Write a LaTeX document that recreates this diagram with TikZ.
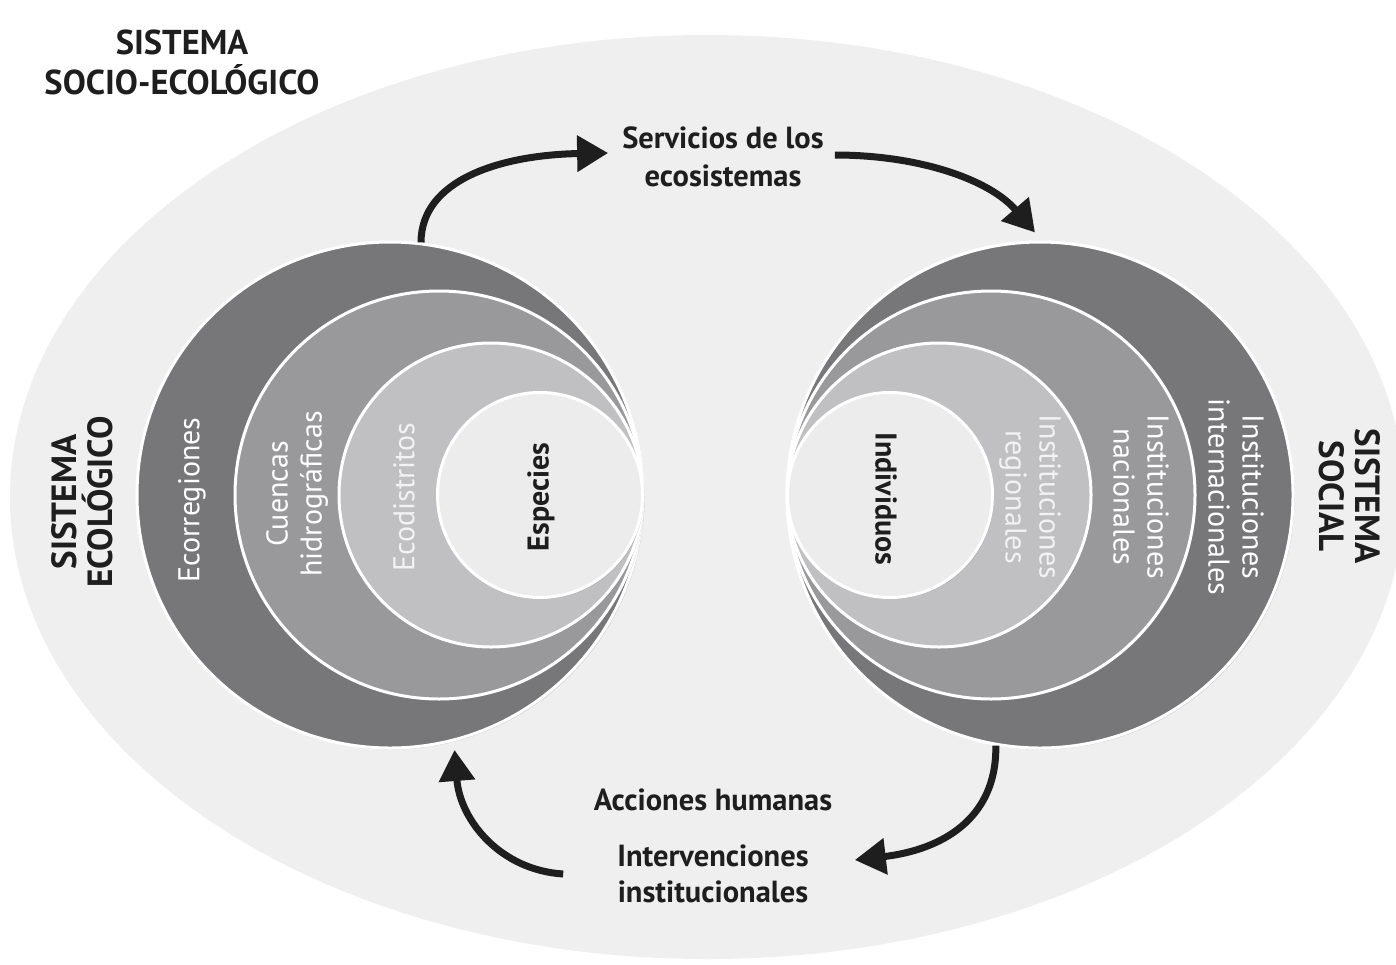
\documentclass[tikz,border=0pt]{standalone}
\usepackage{fontspec}
\setmainfont{PT Sans}
\usetikzlibrary{arrows.meta,shadows,calc}
\definecolor{bgell}{HTML}{EFEFEF}
\definecolor{ringA}{HTML}{77777A}
\definecolor{ringB}{HTML}{99999C}
\definecolor{ringC}{HTML}{C0C0C2}
\definecolor{ringD}{HTML}{ECECED}
\definecolor{ink}{HTML}{1E1E1E}
\definecolor{paletxt}{HTML}{F2F2F2}
\begin{document}
\begin{tikzpicture}[x=1pt,y=-1pt,
  ring/.style={circle, draw=white, line width=3pt, inner sep=0pt,
    drop shadow={shadow xshift=1.5pt, shadow yshift=-1.5pt, opacity=0.3}},
  ringtxt/.style={font=\fontsize{30}{34}\selectfont, text=white, align=center, inner sep=0pt},
  darktxt/.style={font=\fontsize{30}{34}\selectfont\bfseries, text=ink, align=center, inner sep=0pt},
  systxt/.style={font=\fontsize{35}{36}\selectfont\bfseries, text=ink, align=center, inner sep=0pt},
  lbl/.style={font=\fontsize{30.5}{38}\selectfont\bfseries, text=ink, align=center, inner sep=0pt},
  flow/.style={line width=7pt, draw=ink, -{Triangle[length=31pt,width=35pt]}}
]
\useasboundingbox (0,0) rectangle (1396,964);
\fill[white] (0,0) rectangle (1396,964);
\fill[bgell] (707,497) ellipse [x radius=697, y radius=462];

% ecological system circles
\node[ring, fill=ringA, minimum size=506pt] (eco1) at (390,495) {};
\node[ring, fill=ringB, minimum size=408pt] (eco2) at (439,495) {};
\node[ring, fill=ringC, minimum size=304pt] (eco3) at (491,495) {};
\node[ring, fill=ringD, minimum size=205pt] (eco4) at (540,495) {};

% social system circles
\node[ring, fill=ringA, minimum size=506pt] (soc1) at (1040,495) {};
\node[ring, fill=ringB, minimum size=408pt] (soc2) at (991,495) {};
\node[ring, fill=ringC, minimum size=304pt] (soc3) at (939,495) {};
\node[ring, fill=ringD, minimum size=205pt] (soc4) at (890,495) {};

% ring labels, left
\node[ringtxt, rotate=90] (teco1) at (192,500) {Ecorregiones};
\node[ringtxt, rotate=90] (teco2) at (297,494) {Cuencas\\hidrográficas};
\node[ringtxt, rotate=90, text=paletxt] (teco3) at (404,497) {Ecodistritos};
\node[darktxt, rotate=90] (teco4) at (541,497) {Especies};
\node[systxt, rotate=90] (tecosys) at (82,502) {SISTEMA\\ECOLÓGICO};

% ring labels, right
\node[darktxt, rotate=-90] (tsoc4) at (886,499) {Individuos};
\node[ringtxt, rotate=-90, text=paletxt] (tsoc3) at (1030,497) {Instituciones\\regionales};
\node[ringtxt, rotate=-90] (tsoc2) at (1141,497) {Instituciones\\nacionales};
\node[ringtxt, rotate=-90] (tsoc1) at (1236,497) {Instituciones\\internacionales};
\node[systxt, rotate=-90] (tsocsys) at (1350,496) {SISTEMA\\SOCIAL};

% title and flow labels
\node[lbl, font=\fontsize{34.5}{40}\selectfont\bfseries] (title) at (182,62) {SISTEMA\\SOCIO-ECOLÓGICO};
\node[lbl] (serv) at (723,157) {Servicios de los\\ecosistemas};
\node[lbl] (acc) at (713,800) {Acciones humanas};
\node[lbl, font=\fontsize{30.5}{36}\selectfont\bfseries] (interv) at (713,874) {Intervenciones\\institucionales};

% connectors
\draw[flow] (eco1.83) .. controls (421,180) and (500,155) .. ($(serv.west)+(-14,-4)$);
\draw[flow] ($(serv.east)+(11,-2)$) .. controls (920,155) and (990,180) .. ($(soc1.north)+(-5,-8)$);
\draw[flow] (soc1.-100) .. controls (997,820) and (940,850) .. ($(interv.east)+(46,-14)$);
\draw[flow] ($(interv.west)+(-54,0)$) .. controls (500,870) and (460,820) .. ($(eco1.-76)+(3,8)$);
\end{tikzpicture}
\end{document}
